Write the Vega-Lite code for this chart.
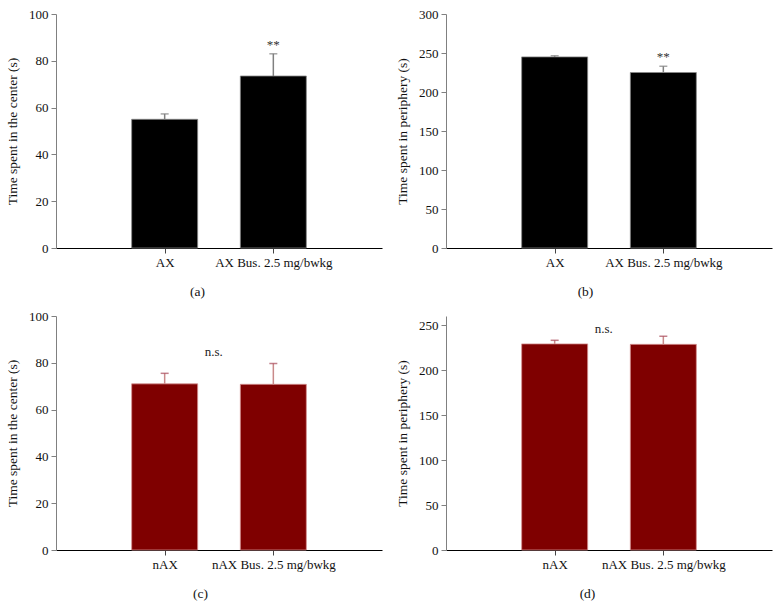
{
  "$schema": "https://vega.github.io/schema/vega-lite/v6.json",
  "background": "white",
  "padding": {"left": 5, "top": 8, "right": 5, "bottom": 5},
  "columns": 2,
  "spacing": {"row": 68, "column": 64},
  "bounds": "flush",
  "config": {
    "view": {"stroke": null},
    "font": "Liberation Serif",
    "axis": {"labelFont": "Liberation Serif", "titleFont": "Liberation Serif", "labelFontSize": 13, "titleFontSize": 13.5, "titleFontWeight": "normal", "labelColor": "#111", "titleColor": "#111", "grid": false, "tickSize": 5, "labelOverlap": false},
    "axisY": {"domainColor": "#808080", "tickColor": "#808080", "titlePadding": 9, "labelPadding": 3},
    "axisX": {"domainColor": "#000", "tickColor": "#444", "labelAngle": 0, "labelPadding": 3, "titlePadding": 15}
  },
  "concat": [
    {
      "width": 326, "height": 234,
      "data": {"values": [
        {"group": "AX", "mean": 55, "hi": 57.3, "note": ""},
        {"group": "AX Bus. 2.5 mg/bwkg", "mean": 73.5, "hi": 83, "note": "**"}
      ]},
      "encoding": {
        "x": {"field": "group", "type": "nominal", "scale": {"type": "point", "domain": ["_l", "AX", "AX Bus. 2.5 mg/bwkg", "_r"], "padding": 0}, "axis": {"values": ["AX", "AX Bus. 2.5 mg/bwkg"], "title": "(a)", "titleX": 141}}
      },
      "layer": [
        {"mark": {"type": "bar", "width": 66, "color": "#000", "stroke": "#888", "strokeWidth": 0.8},
         "encoding": {"y": {"field": "mean", "type": "quantitative", "scale": {"domain": [0, 100]}, "axis": {"values": [0, 20, 40, 60, 80, 100], "title": "Time spent in the center (s)"}}}},
        {"mark": {"type": "rule", "color": "#808080", "strokeWidth": 1.5},
         "encoding": {"y": {"field": "mean", "type": "quantitative", "axis": {"values": [0, 20, 40, 60, 80, 100], "title": "Time spent in the center (s)"}}, "y2": {"field": "hi"}}},
        {"mark": {"type": "tick", "color": "#808080", "size": 8, "thickness": 1.5, "orient": "horizontal"},
         "encoding": {"y": {"field": "hi", "type": "quantitative", "axis": {"values": [0, 20, 40, 60, 80, 100], "title": "Time spent in the center (s)"}}}},
        {"mark": {"type": "text", "fontSize": 13, "color": "#333", "dy": -9},
         "encoding": {"y": {"field": "hi", "type": "quantitative", "axis": {"values": [0, 20, 40, 60, 80, 100], "title": "Time spent in the center (s)"}}, "text": {"field": "note"}}}
      ]
    },
    {
      "width": 326, "height": 234,
      "data": {"values": [
        {"group": "AX", "mean": 245, "hi": 246.5, "note": ""},
        {"group": "AX Bus. 2.5 mg/bwkg", "mean": 225, "hi": 233, "note": "**"}
      ]},
      "encoding": {
        "x": {"field": "group", "type": "nominal", "scale": {"type": "point", "domain": ["_l", "AX", "AX Bus. 2.5 mg/bwkg", "_r"], "padding": 0}, "axis": {"values": ["AX", "AX Bus. 2.5 mg/bwkg"], "title": "(b)", "titleX": 139}}
      },
      "layer": [
        {"mark": {"type": "bar", "width": 66, "color": "#000", "stroke": "#888", "strokeWidth": 0.8},
         "encoding": {"y": {"field": "mean", "type": "quantitative", "scale": {"domain": [0, 300]}, "axis": {"values": [0, 50, 100, 150, 200, 250, 300], "title": "Time spent in periphery (s)"}}}},
        {"mark": {"type": "rule", "color": "#808080", "strokeWidth": 1.5},
         "encoding": {"y": {"field": "mean", "type": "quantitative", "axis": {"values": [0, 50, 100, 150, 200, 250, 300], "title": "Time spent in periphery (s)"}}, "y2": {"field": "hi"}}},
        {"mark": {"type": "tick", "color": "#808080", "size": 8, "thickness": 1.5, "orient": "horizontal"},
         "encoding": {"y": {"field": "hi", "type": "quantitative", "axis": {"values": [0, 50, 100, 150, 200, 250, 300], "title": "Time spent in periphery (s)"}}}},
        {"mark": {"type": "text", "fontSize": 13, "color": "#333", "dy": -9},
         "encoding": {"y": {"field": "hi", "type": "quantitative", "axis": {"values": [0, 50, 100, 150, 200, 250, 300], "title": "Time spent in periphery (s)"}}, "text": {"field": "note"}}}
      ]
    },
    {
      "width": 326, "height": 234,
      "data": {"values": [
        {"group": "nAX", "mean": 71, "hi": 75.5, "note": "n.s."},
        {"group": "nAX Bus. 2.5 mg/bwkg", "mean": 70.8, "hi": 79.7, "note": ""}
      ]},
      "encoding": {
        "x": {"field": "group", "type": "nominal", "scale": {"type": "point", "domain": ["_l", "nAX", "nAX Bus. 2.5 mg/bwkg", "_r"], "padding": 0}, "axis": {"values": ["nAX", "nAX Bus. 2.5 mg/bwkg"], "title": "(c)", "titleX": 144}}
      },
      "layer": [
        {"mark": {"type": "bar", "width": 66, "color": "#7f0000", "stroke": "#d49090", "strokeWidth": 0.8},
         "encoding": {"y": {"field": "mean", "type": "quantitative", "scale": {"domain": [0, 100]}, "axis": {"values": [0, 20, 40, 60, 80, 100], "title": "Time spent in the center (s)"}}}},
        {"mark": {"type": "rule", "color": "#c98a8a", "strokeWidth": 1.5},
         "encoding": {"y": {"field": "mean", "type": "quantitative", "axis": {"values": [0, 20, 40, 60, 80, 100], "title": "Time spent in the center (s)"}}, "y2": {"field": "hi"}}},
        {"mark": {"type": "tick", "color": "#a84858", "size": 8, "thickness": 1.5, "orient": "horizontal"},
         "encoding": {"y": {"field": "hi", "type": "quantitative", "axis": {"values": [0, 20, 40, 60, 80, 100], "title": "Time spent in the center (s)"}}}},
        {"mark": {"type": "text", "fontSize": 13, "color": "#222", "dx": 49},
         "encoding": {"y": {"datum": 84.6, "type": "quantitative", "axis": {"values": [0, 20, 40, 60, 80, 100], "title": "Time spent in the center (s)"}}, "text": {"field": "note"}}}
      ]
    },
    {
      "width": 326, "height": 234,
      "data": {"values": [
        {"group": "nAX", "mean": 229, "hi": 233, "note": "n.s."},
        {"group": "nAX Bus. 2.5 mg/bwkg", "mean": 228.5, "hi": 237.5, "note": ""}
      ]},
      "encoding": {
        "x": {"field": "group", "type": "nominal", "scale": {"type": "point", "domain": ["_l", "nAX", "nAX Bus. 2.5 mg/bwkg", "_r"], "padding": 0}, "axis": {"values": ["nAX", "nAX Bus. 2.5 mg/bwkg"], "title": "(d)", "titleX": 141}}
      },
      "layer": [
        {"mark": {"type": "bar", "width": 66, "color": "#7f0000", "stroke": "#d49090", "strokeWidth": 0.8},
         "encoding": {"y": {"field": "mean", "type": "quantitative", "scale": {"domain": [0, 250]}, "axis": {"values": [0, 50, 100, 150, 200, 250], "title": "Time spent in periphery (s)"}}}},
        {"mark": {"type": "rule", "color": "#c98a8a", "strokeWidth": 1.5},
         "encoding": {"y": {"field": "mean", "type": "quantitative", "axis": {"values": [0, 50, 100, 150, 200, 250], "title": "Time spent in periphery (s)"}}, "y2": {"field": "hi"}}},
        {"mark": {"type": "tick", "color": "#a84858", "size": 8, "thickness": 1.5, "orient": "horizontal"},
         "encoding": {"y": {"field": "hi", "type": "quantitative", "axis": {"values": [0, 50, 100, 150, 200, 250], "title": "Time spent in periphery (s)"}}}},
        {"mark": {"type": "text", "fontSize": 13, "color": "#222", "dx": 49},
         "encoding": {"y": {"datum": 245.7, "type": "quantitative", "axis": {"values": [0, 50, 100, 150, 200, 250], "title": "Time spent in periphery (s)"}}, "text": {"field": "note"}}}
      ]
    }
  ]
}
